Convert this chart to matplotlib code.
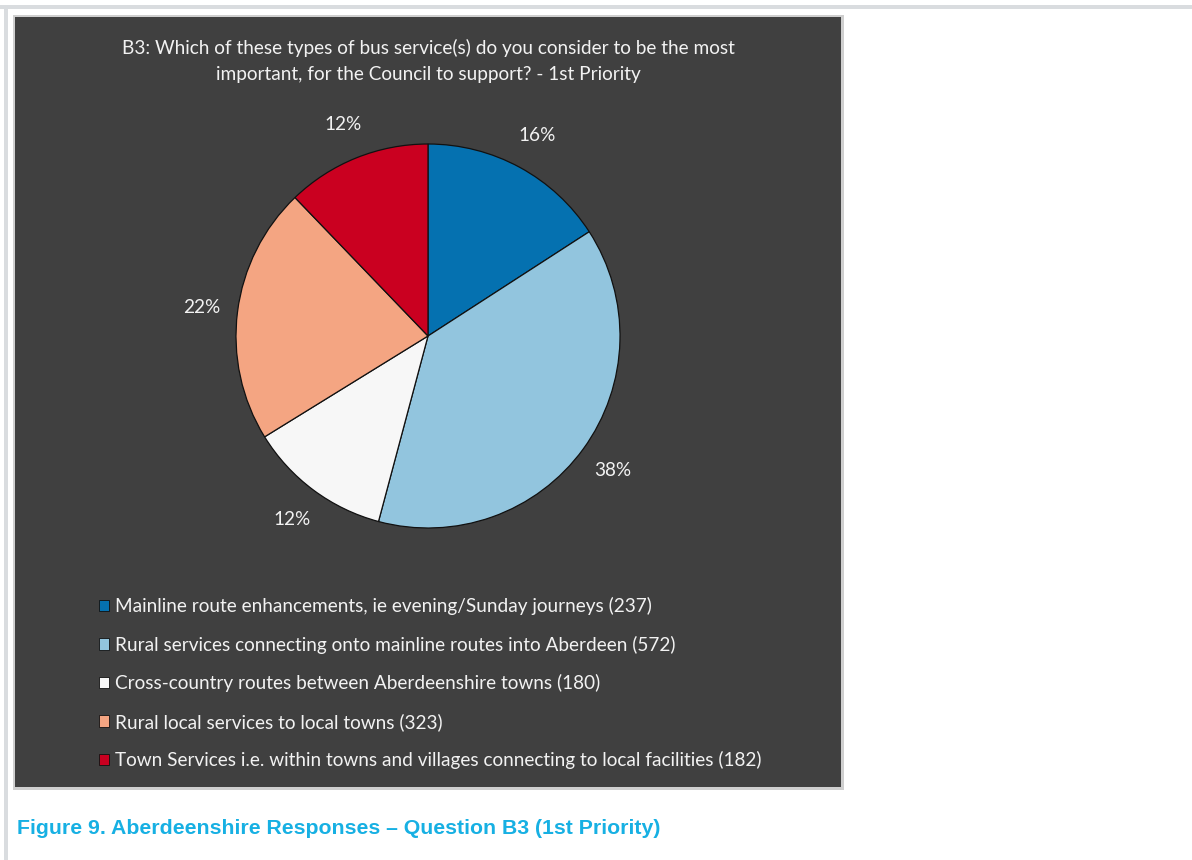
import matplotlib.pyplot as plt
from matplotlib.patches import Rectangle

labels = ['Mainline route enhancements, ie evening/Sunday journeys (237)',
          'Rural services connecting onto mainline routes into Aberdeen (572)',
          'Cross-country routes between Aberdeenshire towns (180)',
          'Rural local services to local towns (323)',
          'Town Services i.e. within towns and villages connecting to local facilities (182)']
counts = [237, 572, 180, 323, 182]
colors = ['#0571b0', '#92c5de', '#f7f7f7', '#f4a582', '#ca0020']

title = ('B3: Which of these types of bus service(s) do you consider to be the most\n'
         'important, for the Council to support? - 1st Priority')
caption = 'Figure 9. Aberdeenshire Responses \u2013 Question B3 (1st Priority)'

W, H = 1192, 860
fig = plt.figure(figsize=(W / 100, H / 100), dpi=100)
fig.patch.set_facecolor('white')

def px_rect(x0, y0, x1, y1, color, z=0):
    # rectangle given in pixel coords measured from the top-left corner
    r = Rectangle((x0 / W, 1 - y1 / H), (x1 - x0) / W, (y1 - y0) / H,
                  transform=fig.transFigure, facecolor=color, edgecolor='none', zorder=z)
    fig.add_artist(r)

# page rules and chart panel
px_rect(0, 5, W, 9, '#d9dcdf')
px_rect(4, 5, 8, H, '#d9dcdf')
px_rect(13, 15, 844, 790, '#cfcfcf')
px_rect(15, 17, 841, 787, '#404040')

font = 'Lato'
fs = 13.7

fig.text(428 / W, 1 - 61 / H, title, ha='center', va='center', color='#f2f2f2',
         fontsize=fs, family=font, linespacing=1.58)

# pie
cx, cy, R = 428, 336, 192
half = R * 1.3
ax = fig.add_axes([(cx - half) / W, (H - cy - half) / H, 2 * half / W, 2 * half / H])
ax.set_facecolor('none')
wedges, texts, autotexts = ax.pie(counts, colors=colors, startangle=90, counterclock=False,
                                  radius=1, autopct='%1.0f%%', pctdistance=1.19,
                                  wedgeprops=dict(edgecolor='#111111', linewidth=0.9))
for t in autotexts:
    t.set_color('#f2f2f2')
    t.set_fontsize(fs)
    t.set_family(font)
ax.set_xlim(-1.3, 1.3)
ax.set_ylim(-1.3, 1.3)
ax.set_aspect('equal')
ax.axis('off')

leg = fig.legend(wedges, labels, loc='upper left', bbox_to_anchor=(99 / W, 1 - 597 / H),
                 frameon=False, labelcolor='#f2f2f2', prop={'family': font, 'size': fs},
                 handlelength=0.55, handleheight=0.55, handletextpad=0.3,
                 labelspacing=1.08, borderpad=0, borderaxespad=0)
for h in leg.legend_handles:
    h.set_edgecolor('#111111')
    h.set_linewidth(0.6)

fig.text(17 / W, 1 - 828 / H, caption, ha='left', va='center', color='#17b0e3',
         fontsize=15.3, fontweight='bold', family='Liberation Sans')

fig.savefig('out.png', dpi=100)
